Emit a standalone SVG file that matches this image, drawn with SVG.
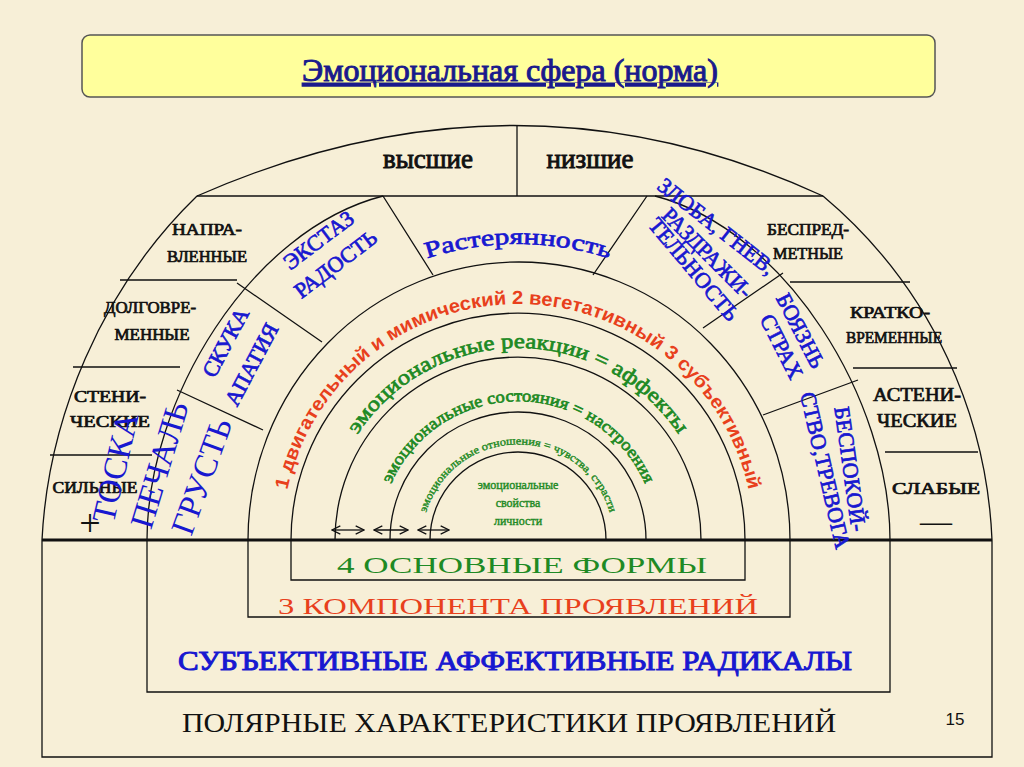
<svg xmlns="http://www.w3.org/2000/svg" width="1024" height="767" viewBox="0 0 1024 767">
<style>
.ln{fill:none;stroke:#111;stroke-width:1.3}
.s{font-family:"Liberation Serif","Times New Roman",serif;font-weight:normal;stroke-width:0.7}
.k{fill:#111;stroke:#111;font-size:16px}
.b{fill:#1818d0;stroke:#1818d0}
.g{fill:#1e8a24;stroke:#1e8a24}
.r{fill:#e8401c;stroke:#e8401c}
.t{fill:#1a1a8c;stroke:#1a1a8c}
.kk{fill:#111;stroke:#111}
.n{stroke:none}
.a{font-family:"Liberation Sans",Arial,sans-serif;font-weight:bold;stroke:none}
</style>
<defs>
<marker id="ah" viewBox="0 0 10 10" refX="9" refY="5" markerWidth="8" markerHeight="8" orient="auto-start-reverse"><path d="M1,1 L9,5 L1,9" fill="none" stroke="#111" stroke-width="1.2"/></marker>
<path id="pRed" d="M285.6,499 A236,236 0 0 1 750.4,499"/>
<path id="pG1" d="M351.7,444 A192,192 0 0 1 684.3,444"/>
<path id="pG2" d="M383.2,506.4 A139,139 0 0 1 652.8,506.4"/>
<path id="pG3" d="M423,526.6 A96,96 0 0 1 613,526.6"/>
<path id="pRas" d="M370,283.7 A296,296 0 0 1 666,283.7"/>
</defs>
<rect width="1024" height="767" fill="#f7efd7"/>
<g id="title">
<rect x="82" y="35" width="853" height="62" rx="8" fill="#ffff9c" stroke="#555" stroke-width="1.5"/>
<text x="510" y="81" text-anchor="middle" class="s t" font-size="32" style="stroke-width:1" text-decoration="underline">Эмоциональная сфера (норма)</text>
</g>
<g id="frame">
<path class="ln" d="M42,540 C48,420 100,290 197,196 Q517,55 823,196 C935,290 987,420 992,540"/>
<line class="ln" x1="197" y1="196" x2="823" y2="196"/>
<line class="ln" x1="517" y1="125" x2="517" y2="196"/>
<path class="ln" d="M147,540 C147,400 250,230 383,196 M655,196 C786,230 890,400 890,540"/>
<path class="ln" d="M248,540 A271,278 0 0 1 790,540"/>
<path class="ln" d="M291,540 A227,227 0 0 1 745,540"/>
<path class="ln" d="M335,540 A183,183 0 0 1 701,540"/>
<path class="ln" d="M390,540 A128,128 0 0 1 646,540"/>
<path class="ln" d="M430,540 A88,88 0 0 1 606,540"/>
<path class="ln" d="M120,280H237 M73,367H180 M50,455H152 M790,282H910 M853,368H957 M885,452H978"/>
<path class="ln" d="M237,283L322,342 M177,390L263,430 M383,196L433,275 M647,196L593,275 M783,273L703,328 M858,380L763,415"/>
<line x1="42" y1="540" x2="992" y2="540" stroke="#111" stroke-width="3"/>
<path class="ln" d="M42,540V757H992V540 M147,540V692H890V540 M248,540V617H790V540 M291,540V580H745V540"/>
</g>
<g id="connectors">
<line class="ln" x1="332" y1="530" x2="364" y2="530" marker-start="url(#ah)" marker-end="url(#ah)"/>
<line class="ln" x1="374" y1="530" x2="408" y2="530" marker-start="url(#ah)" marker-end="url(#ah)"/>
<line class="ln" x1="418" y1="530" x2="449" y2="530" marker-start="url(#ah)" marker-end="url(#ah)"/>
</g>
<g id="labels-black" class="s" text-anchor="middle">
<text x="428" y="168" font-size="27" class="kk" style="stroke-width:0.9">высшие</text>
<text x="590" y="168" font-size="27" class="kk" style="stroke-width:0.9">низшие</text>
<g class="k" font-size="16">
<text x="207" y="235" textLength="70" lengthAdjust="spacingAndGlyphs">НАПРА-</text><text x="207" y="262" textLength="80" lengthAdjust="spacingAndGlyphs">ВЛЕННЫЕ</text>
<text x="150" y="313" textLength="92" lengthAdjust="spacingAndGlyphs">ДОЛГОВРЕ-</text><text x="152" y="340" textLength="75" lengthAdjust="spacingAndGlyphs">МЕННЫЕ</text>
<text x="110" y="402" textLength="72" lengthAdjust="spacingAndGlyphs">СТЕНИ-</text><text x="110" y="427" textLength="80" lengthAdjust="spacingAndGlyphs">ЧЕСКИЕ</text>
<text x="95" y="493" textLength="85" lengthAdjust="spacingAndGlyphs">СИЛЬНЫЕ</text>
<text x="808" y="235" textLength="82" lengthAdjust="spacingAndGlyphs">БЕСПРЕД-</text><text x="808" y="259" textLength="70" lengthAdjust="spacingAndGlyphs">МЕТНЫЕ</text>
<text x="890" y="318" textLength="80" lengthAdjust="spacingAndGlyphs">КРАТКО-</text><text x="894" y="343" textLength="96" lengthAdjust="spacingAndGlyphs">ВРЕМЕННЫЕ</text>
<text x="917" y="401" font-size="18" textLength="88" lengthAdjust="spacingAndGlyphs">АСТЕНИ-</text><text x="917" y="427" font-size="18" textLength="80" lengthAdjust="spacingAndGlyphs">ЧЕСКИЕ</text>
<text x="936" y="494" textLength="88" lengthAdjust="spacingAndGlyphs">СЛАБЫЕ</text>
</g>
<text x="90" y="536" font-size="38" class="kk n">+</text>
<text x="936" y="532" font-size="32" class="kk n">—</text>
</g>
<g id="labels-blue" class="s b" text-anchor="middle" font-size="22">
<text font-size="23"><textPath href="#pRas" startOffset="50%" textLength="185" lengthAdjust="spacingAndGlyphs">Растерянность</textPath></text>
<text transform="translate(323,246) rotate(-37)">ЭКСТАЗ</text>
<text transform="translate(340,270) rotate(-37)">РАДОСТЬ</text>
<text transform="translate(232,346) rotate(-62)">СКУКА</text>
<text transform="translate(258,368) rotate(-62)">АПАТИЯ</text>
<text font-size="33" class="b n" transform="translate(126,470) rotate(-77)">ТОСКА</text>
<text font-size="33" class="b n" transform="translate(170,468) rotate(-73)">ПЕЧАЛЬ</text>
<text font-size="33" class="b n" transform="translate(212,480) rotate(-70)">ГРУСТЬ</text>
<text transform="translate(712,232) rotate(38)">ЗЛОБА, ГНЕВ,</text>
<text transform="translate(702,258) rotate(45)">РАЗДРАЖИ-</text>
<text transform="translate(688,274) rotate(50)">ТЕЛЬНОСТЬ</text>
<text transform="translate(794,334) rotate(63)">БОЯЗНЬ</text>
<text transform="translate(775,350) rotate(63)">СТРАХ</text>
<text transform="translate(843,470) rotate(82)">БЕСПОКОЙ-</text>
<text transform="translate(818,472) rotate(77)">СТВО,ТРЕВОГА</text>
</g>
<g id="labels-arcs" text-anchor="middle">
<text class="a r" font-size="19"><textPath href="#pRed" startOffset="50%" textLength="640" lengthAdjust="spacingAndGlyphs">1  двигательный и мимический 2 вегетативный 3 субъективный</textPath></text>
<text class="s g" font-size="21"><textPath href="#pG1" startOffset="50%" textLength="380" lengthAdjust="spacingAndGlyphs">эмоциональные реакции = аффекты</textPath></text>
<text class="s g" font-size="17"><textPath href="#pG2" startOffset="50%" textLength="320" lengthAdjust="spacingAndGlyphs">эмоциональные состояния = настроения</textPath></text>
<text class="s g" font-size="11" style="stroke-width:0.4"><textPath href="#pG3" startOffset="50%" textLength="245" lengthAdjust="spacingAndGlyphs">эмоциональные отношения = чувства, страсти</textPath></text>
<g class="s g" font-size="12" style="stroke-width:0.4">
<text x="518" y="489">эмоциональные</text>
<text x="518" y="507">свойства</text>
<text x="518" y="525">личности</text>
</g>
</g>
<g id="labels-bottom" class="s" text-anchor="middle">
<text x="522" y="573" font-size="24" class="g n" textLength="370" lengthAdjust="spacingAndGlyphs">4  ОСНОВНЫЕ   ФОРМЫ</text>
<text x="518" y="614" font-size="24" class="r n" textLength="480" lengthAdjust="spacingAndGlyphs">3   КОМПОНЕНТА   ПРОЯВЛЕНИЙ</text>
<text x="515" y="670" font-size="28" class="b" style="stroke-width:1" textLength="674" lengthAdjust="spacingAndGlyphs">СУБЪЕКТИВНЫЕ АФФЕКТИВНЫЕ РАДИКАЛЫ</text>
<text x="509" y="732" font-size="28" class="kk n" textLength="654" lengthAdjust="spacingAndGlyphs">ПОЛЯРНЫЕ ХАРАКТЕРИСТИКИ ПРОЯВЛЕНИЙ</text>
<text x="955" y="725" font-size="17" font-family="Liberation Sans,Arial,sans-serif" fill="#111">15</text>
</g>
</svg>
